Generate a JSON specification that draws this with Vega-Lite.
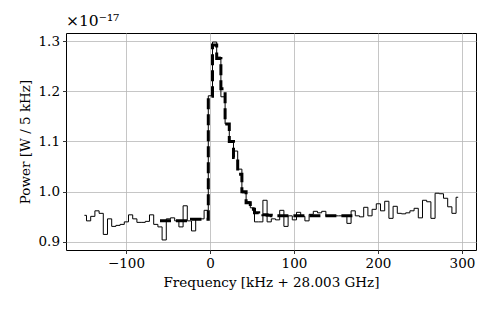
{
  "$schema": "https://vega.github.io/schema/vega-lite/v6.json",
  "autosize": {"type": "none"},
  "width": 410,
  "height": 217,
  "padding": {"left": 66, "top": 33, "right": 22, "bottom": 62},
  "background": "white",
  "config": {
    "font": "DejaVu Serif",
    "view": {"stroke": "black", "strokeWidth": 1},
    "axis": {
      "grid": true,
      "gridColor": "#b8b8b8",
      "gridWidth": 0.8,
      "domain": false,
      "tickColor": "black",
      "tickSize": 3.5,
      "tickWidth": 0.8,
      "labelColor": "black",
      "labelFont": "DejaVu Serif",
      "labelFontSize": 13.5,
      "titleFont": "DejaVu Serif",
      "titleFontSize": 13.5,
      "titleFontWeight": "normal",
      "titleColor": "black"
    }
  },
  "title": {
    "text": "×10⁻¹⁷",
    "anchor": "start",
    "frame": "group",
    "font": "DejaVu Serif",
    "fontSize": 15.5,
    "fontWeight": "normal",
    "color": "black",
    "offset": 4
  },
  "datasets": {
    "spectrum": [
      {"f": -149.5, "p": 0.953}, {"f": -144.5, "p": 0.942}, {"f": -139.5, "p": 0.951}, {"f": -134.5, "p": 0.962},
      {"f": -129.5, "p": 0.957}, {"f": -124.5, "p": 0.915}, {"f": -119.5, "p": 0.946}, {"f": -114.5, "p": 0.931},
      {"f": -109.5, "p": 0.933}, {"f": -104.5, "p": 0.935}, {"f": -99.5, "p": 0.94}, {"f": -94.5, "p": 0.954},
      {"f": -89.5, "p": 0.946}, {"f": -84.5, "p": 0.939}, {"f": -79.5, "p": 0.939}, {"f": -74.5, "p": 0.941},
      {"f": -69.5, "p": 0.954}, {"f": -64.5, "p": 0.935}, {"f": -59.5, "p": 0.93}, {"f": -54.5, "p": 0.904},
      {"f": -49.5, "p": 0.946}, {"f": -44.5, "p": 0.948}, {"f": -39.5, "p": 0.942}, {"f": -34.5, "p": 0.93},
      {"f": -29.5, "p": 0.972}, {"f": -24.5, "p": 0.942}, {"f": -19.5, "p": 0.922}, {"f": -14.5, "p": 0.946},
      {"f": -9.5, "p": 0.946}, {"f": -4.5, "p": 0.963}, {"f": 0.5, "p": 1.191}, {"f": 5.5, "p": 1.298},
      {"f": 10.5, "p": 1.268}, {"f": 15.5, "p": 1.189}, {"f": 20.5, "p": 1.135}, {"f": 25.5, "p": 1.101},
      {"f": 30.5, "p": 1.081}, {"f": 35.5, "p": 1.045}, {"f": 40.5, "p": 0.998}, {"f": 45.5, "p": 0.98},
      {"f": 50.5, "p": 0.968}, {"f": 55.5, "p": 0.94}, {"f": 60.5, "p": 0.94}, {"f": 65.5, "p": 0.983},
      {"f": 70.5, "p": 0.94}, {"f": 75.5, "p": 0.946}, {"f": 80.5, "p": 0.944}, {"f": 85.5, "p": 0.963},
      {"f": 90.5, "p": 0.931}, {"f": 95.5, "p": 0.952}, {"f": 100.5, "p": 0.944}, {"f": 105.5, "p": 0.959},
      {"f": 110.5, "p": 0.951}, {"f": 115.5, "p": 0.942}, {"f": 120.5, "p": 0.955}, {"f": 125.5, "p": 0.961},
      {"f": 130.5, "p": 0.958}, {"f": 135.5, "p": 0.961}, {"f": 140.5, "p": 0.951}, {"f": 145.5, "p": 0.952},
      {"f": 150.5, "p": 0.952}, {"f": 155.5, "p": 0.952}, {"f": 160.5, "p": 0.952}, {"f": 165.5, "p": 0.937},
      {"f": 170.5, "p": 0.962}, {"f": 175.5, "p": 0.952}, {"f": 180.5, "p": 0.95}, {"f": 185.5, "p": 0.969},
      {"f": 190.5, "p": 0.952}, {"f": 195.5, "p": 0.965}, {"f": 200.5, "p": 0.976}, {"f": 205.5, "p": 0.962},
      {"f": 210.5, "p": 0.981}, {"f": 215.5, "p": 0.947}, {"f": 220.5, "p": 0.971}, {"f": 225.5, "p": 0.957},
      {"f": 230.5, "p": 0.956}, {"f": 235.5, "p": 0.958}, {"f": 240.5, "p": 0.962}, {"f": 245.5, "p": 0.967},
      {"f": 250.5, "p": 0.948}, {"f": 255.5, "p": 0.983}, {"f": 260.5, "p": 0.98}, {"f": 265.5, "p": 0.947},
      {"f": 270.5, "p": 0.997}, {"f": 275.5, "p": 0.996}, {"f": 280.5, "p": 0.987}, {"f": 285.5, "p": 0.97},
      {"f": 290.5, "p": 0.957}, {"f": 295.5, "p": 0.989}
    ],
    "fit": [
      {"f": -59.5, "p": 0.942}, {"f": -54.5, "p": 0.942}, {"f": -49.5, "p": 0.942}, {"f": -44.5, "p": 0.942},
      {"f": -39.5, "p": 0.942}, {"f": -34.5, "p": 0.942}, {"f": -29.5, "p": 0.942}, {"f": -24.5, "p": 0.942},
      {"f": -19.5, "p": 0.945}, {"f": -14.5, "p": 0.945}, {"f": -9.5, "p": 0.945}, {"f": -4.5, "p": 0.945},
      {"f": 0.5, "p": 1.19}, {"f": 5.5, "p": 1.292}, {"f": 10.5, "p": 1.265}, {"f": 15.5, "p": 1.205},
      {"f": 20.5, "p": 1.135}, {"f": 25.5, "p": 1.1}, {"f": 30.5, "p": 1.068}, {"f": 35.5, "p": 1.035},
      {"f": 40.5, "p": 1.0}, {"f": 45.5, "p": 0.978}, {"f": 50.5, "p": 0.965}, {"f": 55.5, "p": 0.958},
      {"f": 60.5, "p": 0.955}, {"f": 65.5, "p": 0.954}, {"f": 70.5, "p": 0.953}, {"f": 75.5, "p": 0.952},
      {"f": 80.5, "p": 0.952}, {"f": 85.5, "p": 0.952}, {"f": 90.5, "p": 0.952}, {"f": 95.5, "p": 0.952},
      {"f": 100.5, "p": 0.952}, {"f": 105.5, "p": 0.952}, {"f": 110.5, "p": 0.952}, {"f": 115.5, "p": 0.952},
      {"f": 120.5, "p": 0.952}, {"f": 125.5, "p": 0.952}, {"f": 130.5, "p": 0.952}, {"f": 135.5, "p": 0.952},
      {"f": 140.5, "p": 0.952}, {"f": 145.5, "p": 0.952}, {"f": 150.5, "p": 0.952}, {"f": 155.5, "p": 0.952},
      {"f": 160.5, "p": 0.952}, {"f": 165.5, "p": 0.952}, {"f": 170.5, "p": 0.952}
    ]
  },
  "encoding": {
    "x": {
      "field": "f",
      "type": "quantitative",
      "scale": {"domain": [-171.4, 316.7], "nice": false, "zero": false},
      "axis": {"values": [-100, 0, 100, 200, 300], "format": "d", "title": "Frequency [kHz + 28.003 GHz]", "labelPadding": 3, "titlePadding": 5}
    },
    "y": {
      "field": "p",
      "type": "quantitative",
      "scale": {"domain": [0.884, 1.316], "nice": false, "zero": false},
      "axis": {"values": [0.9, 1.0, 1.1, 1.2, 1.3], "format": ".1f", "title": "Power [W / 5 kHz]", "labelPadding": 3, "titlePadding": 6}
    }
  },
  "layer": [
    {
      "data": {"name": "spectrum"},
      "mark": {"type": "line", "interpolate": "step", "color": "black", "strokeWidth": 1, "clip": true}
    },
    {
      "data": {"name": "fit"},
      "mark": {"type": "line", "interpolate": "step", "color": "black", "strokeWidth": 3, "strokeDash": [11, 5], "clip": true}
    }
  ]
}
